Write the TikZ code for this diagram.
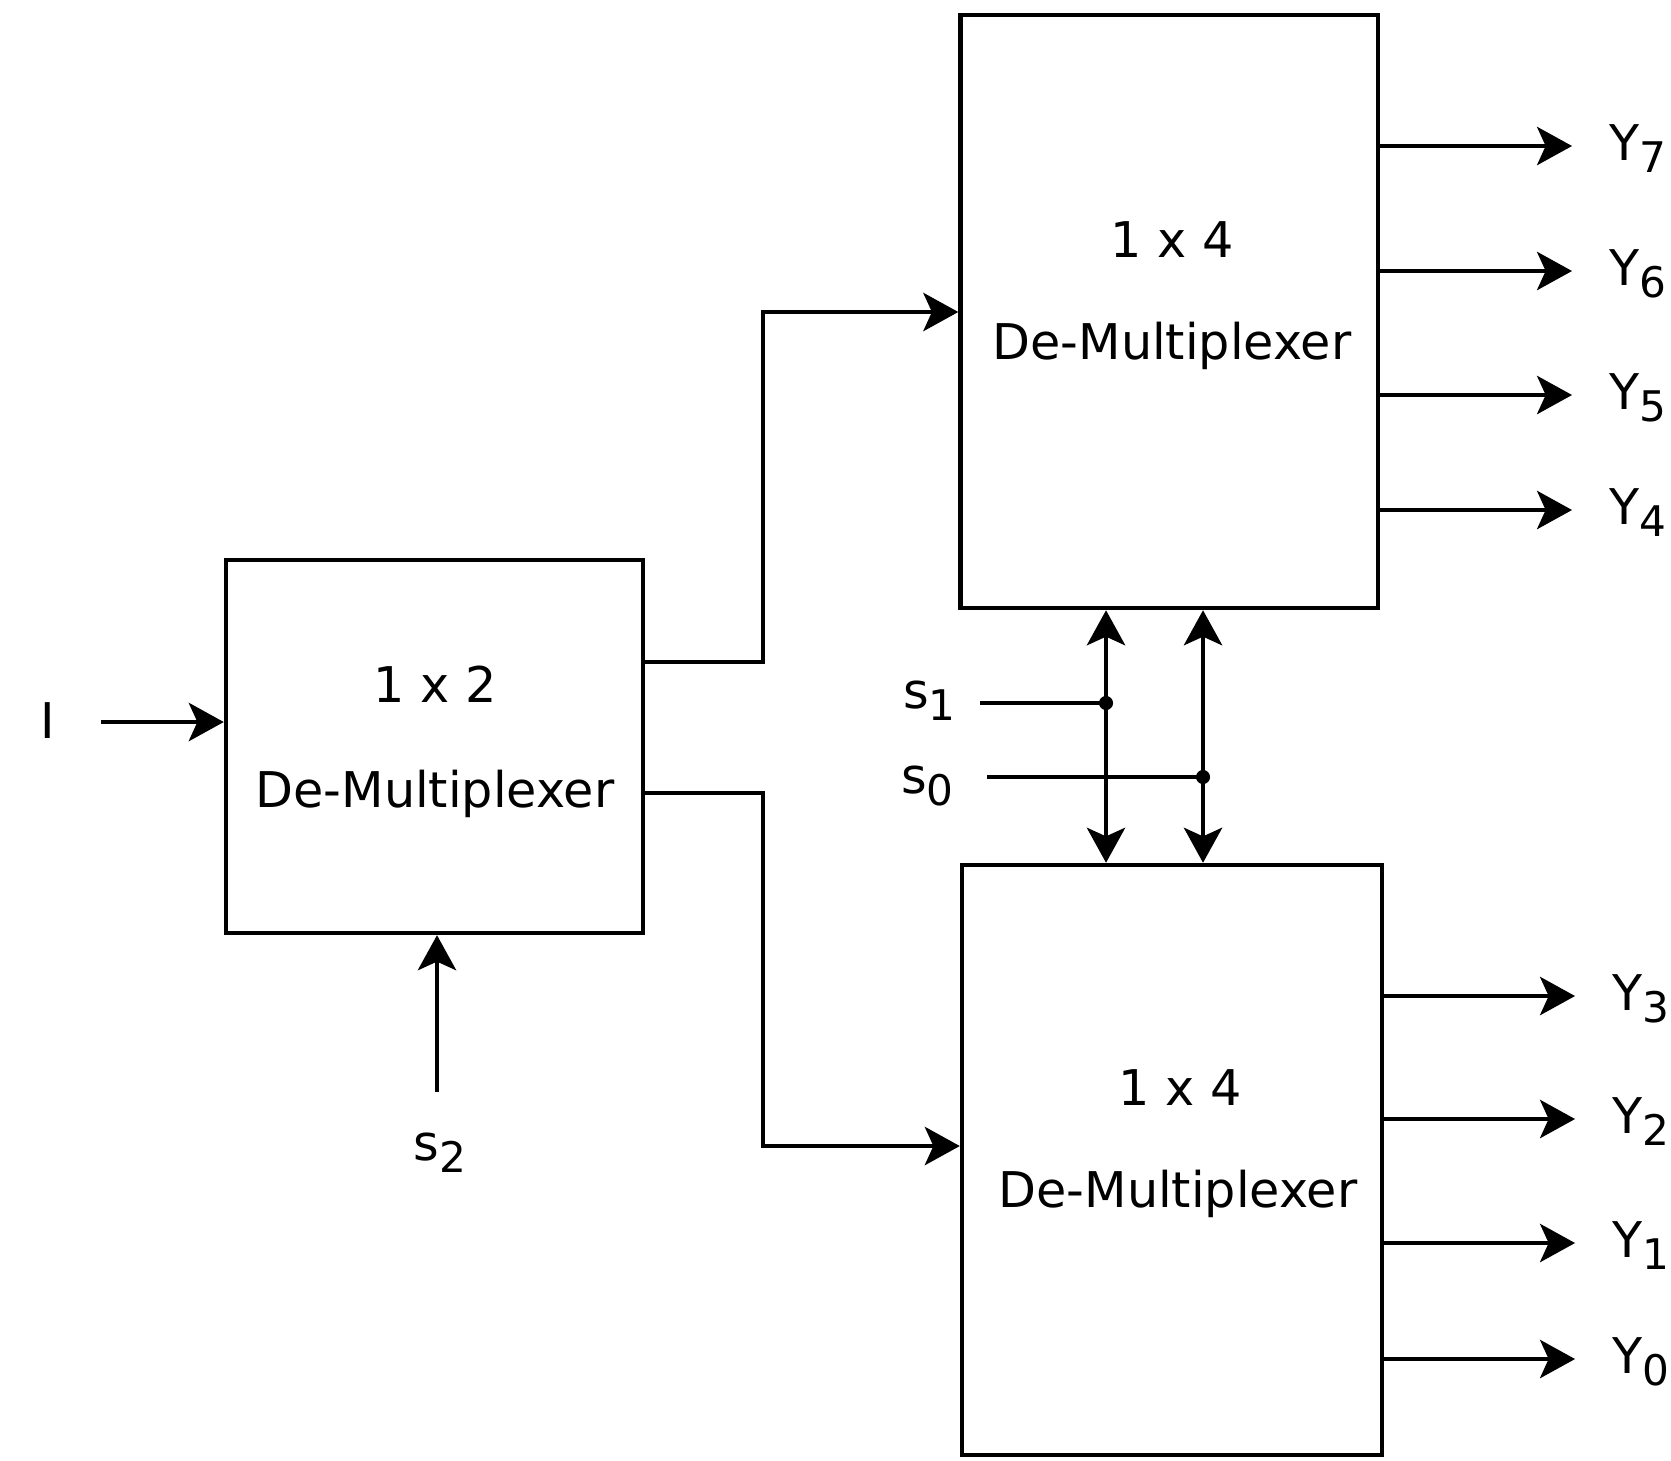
\documentclass[tikz,border=0pt]{standalone}
\usepackage{fontspec}
\setmainfont{DejaVu Sans}
\usetikzlibrary{arrows.meta}
\newcommand{\lowidx}[1]{\raisebox{-3.6pt}{\fontsize{12pt}{14pt}\selectfont #1}}

\begin{document}
\begin{tikzpicture}[x=0.01cm,y=-0.01cm,
  every node/.style={font=\fontsize{14pt}{17pt}\selectfont},
  blk/.style={draw,line width=1.2pt,inner sep=0pt},
  wire/.style={line width=1.1pt},
  sig/.style={wire,-{Stealth[length=10pt,width=11pt,inset=2.5pt,line width=0.5pt,fill=black]}},
  bisig/.style={wire,{Stealth[length=10pt,width=11pt,inset=2.5pt,line width=0.5pt,fill=black]}-{Stealth[length=10pt,width=11pt,inset=2.5pt,line width=0.5pt,fill=black]}}]
  \useasboundingbox (0,0) rectangle (1671,1460);
  % blocks
  \node[blk,minimum width=4.17cm,minimum height=3.73cm] (dmx2) at (434.5,746.5) {};
  \node[blk,minimum width=4.17cm,minimum height=5.93cm] (dmxh) at (1169,311.5) {};
  \node[blk,minimum width=4.2cm,minimum height=5.9cm] (dmxl) at (1172,1160) {};
  \node[anchor=base] (t2a) at (435,702) {1 x 2};
  \node[anchor=base] (t2b) at (435,807) {De-Multiplexer};
  \node[anchor=base] (tha) at (1172,257) {1 x 4};
  \node[anchor=base] (thb) at (1172,359) {De-Multiplexer};
  \node[anchor=base] (tla) at (1180,1105) {1 x 4};
  \node[anchor=base] (tlb) at (1178,1207) {De-Multiplexer};
  % inputs
  \node[anchor=base] (inp) at (48,738) {I};
  \coordinate (in) at (101,722);
  \draw[sig] (in) -- (dmx2.west |- in);
  \node[anchor=base] (s2) at (440,1160) {s\lowidx{2}};
  \coordinate (s2in) at (437,1092);
  \draw[sig] (s2in) -- (s2in |- dmx2.south);
  % 1x2 to 1x4
  \draw[sig] (dmx2.east |- 0,662) -- (763,662) |- (dmxh.west |- 0,312);
  \draw[sig] (dmx2.east |- 0,793) -- (763,793) |- (dmxl.west |- 0,1146);
  % select lines
  \node[anchor=base east] (s1) at (968,708) {s\lowidx{1}};
  \node[anchor=base east] (s0) at (966,793) {s\lowidx{0}};
  \coordinate (j1) at (1106,703);
  \coordinate (j0) at (1203,777);
  \draw[wire] (980,703) -- (j1);
  \draw[wire] (987,777) -- (j0);
  \draw[bisig] (j1 |- dmxh.south) -- (j1 |- dmxl.north);
  \draw[bisig] (j0 |- dmxh.south) -- (j0 |- dmxl.north);
  \fill (j1) circle(2pt);
  \fill (j0) circle(2pt);
  % outputs
  \foreach \y/\n in {146/7,271/6,395/5,510/4}{
    \draw[sig] (dmxh.east |- 0,\y) -- (1572,\y);
    \node[anchor=base west] (y\n) at (1597,\y+14) {Y\lowidx{\n}};
  }
  \foreach \y/\n in {996/3,1119/2,1243/1,1359/0}{
    \draw[sig] (dmxl.east |- 0,\y) -- (1575,\y);
    \node[anchor=base west] (y\n) at (1600,\y+14) {Y\lowidx{\n}};
  }
\end{tikzpicture}
\end{document}
